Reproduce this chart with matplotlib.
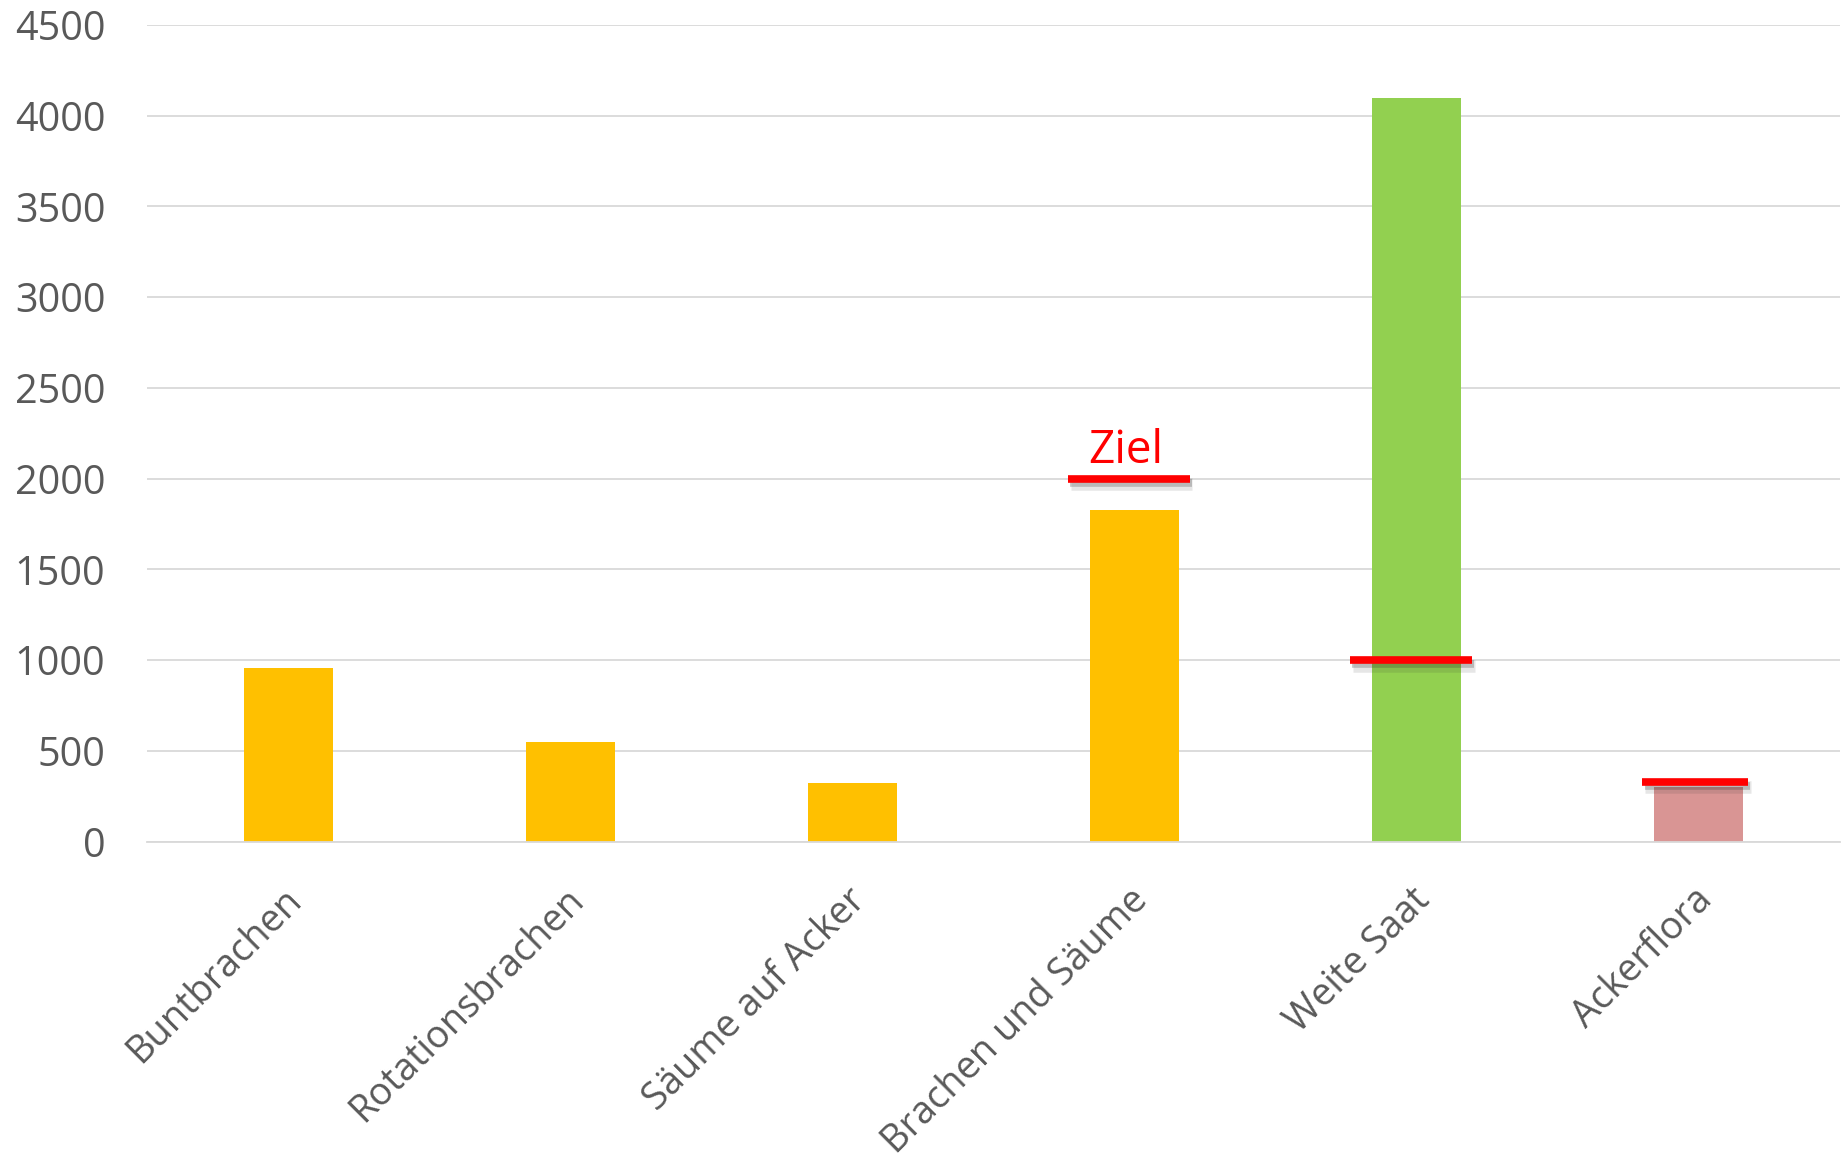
import numpy as np
import matplotlib.pyplot as plt
import matplotlib.patheffects as pe
import matplotlib.transforms as mtransforms

plt.rcParams['font.family'] = ['Open Sans', 'DejaVu Sans']

# data
categories = ['Buntbrachen', 'Rotationsbrachen', 'Säume auf Acker',
              'Brachen und Säume', 'Weite Saat', 'Ackerflora']
values = [955, 548, 322, 1825, 4100, 300]
bar_colors = ['#FFC000', '#FFC000', '#FFC000', '#FFC000', '#92D050', '#D99594']

# targets (category index, value)
target_idx = [3, 4, 5]
target_vals = [2000, 1000, 330]
target_label = 'Ziel'

fig = plt.figure(figsize=(18.49, 11.63), dpi=100)
ax = fig.add_axes([0.0795, 0.2764, 0.9156, 0.7021])

x = np.arange(len(categories))
ax.bar(x, values, width=0.315, color=bar_colors, zorder=2)

# target lines with a soft (layered) shadow
spans = [(-0.235, 0.195), (-0.235, 0.195), (-0.2, 0.175)]
shadow = [pe.SimpleLineShadow(offset=(2, -4), shadow_color='#333333', alpha=0.12, linewidth=9),
          pe.SimpleLineShadow(offset=(1.5, -3), shadow_color='#333333', alpha=0.25),
          pe.Normal()]
for i, v, (l, r) in zip(target_idx, target_vals, spans):
    ax.plot([i + l, i + r], [v, v], color='#FF0000', lw=5.5, solid_capstyle='butt',
            zorder=4, path_effects=shadow)
ax.text(target_idx[0] - 0.03, target_vals[0] + 28, target_label, color='#FF0000',
        fontsize=33, ha='center', va='bottom', zorder=5)

ax.set_xlim(-0.5, len(categories) - 0.5)
ax.set_ylim(0, 4500)
ax.set_yticks(np.arange(0, 4501, 500))
ax.yaxis.grid(True, color='#D9D9D9', lw=1.3, zorder=0)
ax.set_axisbelow(True)

ax.set_xticks(x)
ax.set_xticklabels(categories, rotation=45, ha='right', va='center',
                   rotation_mode='anchor')
ax.tick_params(axis='x', length=0, pad=38, labelsize=27.3, labelcolor='#595959')
ax.tick_params(axis='y', length=0, pad=30, labelsize=28.5, labelcolor='#595959')
shift = mtransforms.ScaledTranslation(0.08, 0, fig.dpi_scale_trans)
for lab in ax.get_xticklabels():
    lab.set_transform(lab.get_transform() + shift)
for s in ['top', 'right', 'left']:
    ax.spines[s].set_visible(False)
ax.spines['bottom'].set_color('#D9D9D9')
ax.spines['bottom'].set_linewidth(1.3)

fig.savefig('out.png', dpi=100)
